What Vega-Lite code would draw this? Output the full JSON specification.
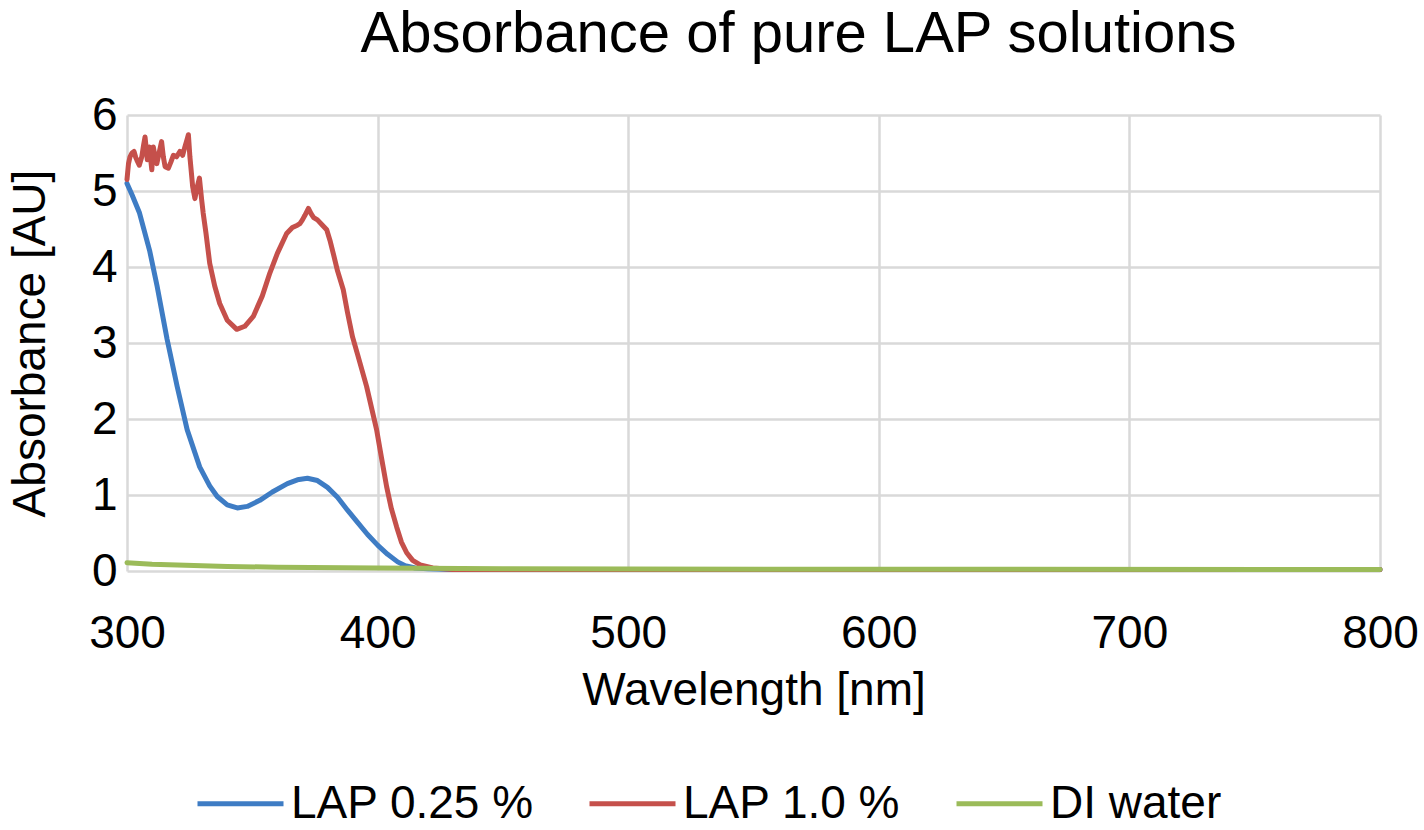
{
  "$schema": "https://vega.github.io/schema/vega-lite/v6.json",
  "width": 1253,
  "height": 456,
  "autosize": {"type": "none"},
  "padding": {"left": 127, "top": 115, "right": 44, "bottom": 259},
  "background": "white",
  "config": {
    "view": {"stroke": null},
    "font": "Liberation Sans",
    "axis": {
      "grid": true,
      "gridColor": "#d9d9d9",
      "gridWidth": 2.5,
      "domain": false,
      "ticks": false,
      "labelFont": "Liberation Sans",
      "labelFontSize": 46,
      "labelColor": "#000000",
      "labelFlush": false,
      "titleFont": "Liberation Sans",
      "titleFontSize": 46,
      "titleFontWeight": "normal",
      "titleColor": "#000000"
    }
  },
  "title": {
    "text": "Absorbance of pure LAP solutions",
    "fontSize": 58,
    "fontWeight": "normal",
    "font": "Liberation Sans",
    "color": "#000000",
    "anchor": "middle",
    "frame": "group",
    "offset": 28,
    "dx": 45
  },
  "data": {
    "values": [
      {"w": 300, "a": 5.10, "s": "LAP 0.25 %"},
      {"w": 302, "a": 4.95, "s": "LAP 0.25 %"},
      {"w": 305, "a": 4.71, "s": "LAP 0.25 %"},
      {"w": 309, "a": 4.22, "s": "LAP 0.25 %"},
      {"w": 312, "a": 3.75, "s": "LAP 0.25 %"},
      {"w": 316, "a": 3.05, "s": "LAP 0.25 %"},
      {"w": 320, "a": 2.43, "s": "LAP 0.25 %"},
      {"w": 324, "a": 1.86, "s": "LAP 0.25 %"},
      {"w": 329, "a": 1.37, "s": "LAP 0.25 %"},
      {"w": 333, "a": 1.12, "s": "LAP 0.25 %"},
      {"w": 336, "a": 0.98, "s": "LAP 0.25 %"},
      {"w": 340, "a": 0.87, "s": "LAP 0.25 %"},
      {"w": 344, "a": 0.83, "s": "LAP 0.25 %"},
      {"w": 348, "a": 0.85, "s": "LAP 0.25 %"},
      {"w": 353, "a": 0.93, "s": "LAP 0.25 %"},
      {"w": 358, "a": 1.04, "s": "LAP 0.25 %"},
      {"w": 364, "a": 1.15, "s": "LAP 0.25 %"},
      {"w": 368, "a": 1.20, "s": "LAP 0.25 %"},
      {"w": 372, "a": 1.22, "s": "LAP 0.25 %"},
      {"w": 376, "a": 1.19, "s": "LAP 0.25 %"},
      {"w": 380, "a": 1.10, "s": "LAP 0.25 %"},
      {"w": 384, "a": 0.97, "s": "LAP 0.25 %"},
      {"w": 388, "a": 0.80, "s": "LAP 0.25 %"},
      {"w": 392, "a": 0.64, "s": "LAP 0.25 %"},
      {"w": 396, "a": 0.48, "s": "LAP 0.25 %"},
      {"w": 400, "a": 0.34, "s": "LAP 0.25 %"},
      {"w": 404, "a": 0.22, "s": "LAP 0.25 %"},
      {"w": 408, "a": 0.12, "s": "LAP 0.25 %"},
      {"w": 411, "a": 0.07, "s": "LAP 0.25 %"},
      {"w": 415, "a": 0.04, "s": "LAP 0.25 %"},
      {"w": 420, "a": 0.03, "s": "LAP 0.25 %"},
      {"w": 430, "a": 0.02, "s": "LAP 0.25 %"},
      {"w": 500, "a": 0.02, "s": "LAP 0.25 %"},
      {"w": 600, "a": 0.02, "s": "LAP 0.25 %"},
      {"w": 700, "a": 0.02, "s": "LAP 0.25 %"},
      {"w": 800, "a": 0.02, "s": "LAP 0.25 %"},
      {"w": 300, "a": 5.15, "s": "LAP 1.0 %"},
      {"w": 300.6, "a": 5.36, "s": "LAP 1.0 %"},
      {"w": 301.2, "a": 5.45, "s": "LAP 1.0 %"},
      {"w": 302.0, "a": 5.50, "s": "LAP 1.0 %"},
      {"w": 302.8, "a": 5.52, "s": "LAP 1.0 %"},
      {"w": 303.5, "a": 5.44, "s": "LAP 1.0 %"},
      {"w": 303.9, "a": 5.41, "s": "LAP 1.0 %"},
      {"w": 304.9, "a": 5.34, "s": "LAP 1.0 %"},
      {"w": 305.9, "a": 5.45, "s": "LAP 1.0 %"},
      {"w": 306.6, "a": 5.60, "s": "LAP 1.0 %"},
      {"w": 307.2, "a": 5.71, "s": "LAP 1.0 %"},
      {"w": 307.7, "a": 5.55, "s": "LAP 1.0 %"},
      {"w": 308.1, "a": 5.41, "s": "LAP 1.0 %"},
      {"w": 308.9, "a": 5.58, "s": "LAP 1.0 %"},
      {"w": 309.9, "a": 5.28, "s": "LAP 1.0 %"},
      {"w": 310.5, "a": 5.58, "s": "LAP 1.0 %"},
      {"w": 311.2, "a": 5.45, "s": "LAP 1.0 %"},
      {"w": 311.9, "a": 5.36, "s": "LAP 1.0 %"},
      {"w": 312.8, "a": 5.50, "s": "LAP 1.0 %"},
      {"w": 313.8, "a": 5.65, "s": "LAP 1.0 %"},
      {"w": 314.5, "a": 5.45, "s": "LAP 1.0 %"},
      {"w": 315.2, "a": 5.32, "s": "LAP 1.0 %"},
      {"w": 316.5, "a": 5.30, "s": "LAP 1.0 %"},
      {"w": 317.5, "a": 5.38, "s": "LAP 1.0 %"},
      {"w": 318.5, "a": 5.47, "s": "LAP 1.0 %"},
      {"w": 319.8, "a": 5.45, "s": "LAP 1.0 %"},
      {"w": 321.1, "a": 5.52, "s": "LAP 1.0 %"},
      {"w": 322.2, "a": 5.47, "s": "LAP 1.0 %"},
      {"w": 323.1, "a": 5.58, "s": "LAP 1.0 %"},
      {"w": 324.0, "a": 5.68, "s": "LAP 1.0 %"},
      {"w": 324.5, "a": 5.74, "s": "LAP 1.0 %"},
      {"w": 325.1, "a": 5.45, "s": "LAP 1.0 %"},
      {"w": 326.2, "a": 5.06, "s": "LAP 1.0 %"},
      {"w": 327.1, "a": 4.90, "s": "LAP 1.0 %"},
      {"w": 328.0, "a": 5.05, "s": "LAP 1.0 %"},
      {"w": 328.9, "a": 5.17, "s": "LAP 1.0 %"},
      {"w": 329.8, "a": 4.88, "s": "LAP 1.0 %"},
      {"w": 330.4, "a": 4.71, "s": "LAP 1.0 %"},
      {"w": 331.5, "a": 4.45, "s": "LAP 1.0 %"},
      {"w": 333, "a": 4.05, "s": "LAP 1.0 %"},
      {"w": 335, "a": 3.75, "s": "LAP 1.0 %"},
      {"w": 337, "a": 3.52, "s": "LAP 1.0 %"},
      {"w": 340, "a": 3.30, "s": "LAP 1.0 %"},
      {"w": 343.8, "a": 3.18, "s": "LAP 1.0 %"},
      {"w": 347, "a": 3.22, "s": "LAP 1.0 %"},
      {"w": 350.4, "a": 3.35, "s": "LAP 1.0 %"},
      {"w": 354, "a": 3.62, "s": "LAP 1.0 %"},
      {"w": 357, "a": 3.92, "s": "LAP 1.0 %"},
      {"w": 360, "a": 4.18, "s": "LAP 1.0 %"},
      {"w": 363.7, "a": 4.44, "s": "LAP 1.0 %"},
      {"w": 366, "a": 4.52, "s": "LAP 1.0 %"},
      {"w": 368, "a": 4.55, "s": "LAP 1.0 %"},
      {"w": 369, "a": 4.57, "s": "LAP 1.0 %"},
      {"w": 370, "a": 4.62, "s": "LAP 1.0 %"},
      {"w": 371, "a": 4.68, "s": "LAP 1.0 %"},
      {"w": 372.4, "a": 4.77, "s": "LAP 1.0 %"},
      {"w": 373.5, "a": 4.70, "s": "LAP 1.0 %"},
      {"w": 374.5, "a": 4.65, "s": "LAP 1.0 %"},
      {"w": 376, "a": 4.62, "s": "LAP 1.0 %"},
      {"w": 378, "a": 4.55, "s": "LAP 1.0 %"},
      {"w": 379.7, "a": 4.49, "s": "LAP 1.0 %"},
      {"w": 381, "a": 4.35, "s": "LAP 1.0 %"},
      {"w": 382.3, "a": 4.18, "s": "LAP 1.0 %"},
      {"w": 384, "a": 3.95, "s": "LAP 1.0 %"},
      {"w": 386.3, "a": 3.70, "s": "LAP 1.0 %"},
      {"w": 388, "a": 3.40, "s": "LAP 1.0 %"},
      {"w": 390, "a": 3.08, "s": "LAP 1.0 %"},
      {"w": 392, "a": 2.85, "s": "LAP 1.0 %"},
      {"w": 395.6, "a": 2.43, "s": "LAP 1.0 %"},
      {"w": 399.6, "a": 1.86, "s": "LAP 1.0 %"},
      {"w": 401.5, "a": 1.50, "s": "LAP 1.0 %"},
      {"w": 403.6, "a": 1.11, "s": "LAP 1.0 %"},
      {"w": 405.5, "a": 0.82, "s": "LAP 1.0 %"},
      {"w": 407.6, "a": 0.58, "s": "LAP 1.0 %"},
      {"w": 409.5, "a": 0.38, "s": "LAP 1.0 %"},
      {"w": 411.6, "a": 0.24, "s": "LAP 1.0 %"},
      {"w": 414, "a": 0.14, "s": "LAP 1.0 %"},
      {"w": 417, "a": 0.08, "s": "LAP 1.0 %"},
      {"w": 422, "a": 0.04, "s": "LAP 1.0 %"},
      {"w": 430, "a": 0.02, "s": "LAP 1.0 %"},
      {"w": 500, "a": 0.02, "s": "LAP 1.0 %"},
      {"w": 800, "a": 0.02, "s": "LAP 1.0 %"},
      {"w": 300, "a": 0.11, "s": "DI water"},
      {"w": 310, "a": 0.09, "s": "DI water"},
      {"w": 320, "a": 0.08, "s": "DI water"},
      {"w": 340, "a": 0.06, "s": "DI water"},
      {"w": 360, "a": 0.05, "s": "DI water"},
      {"w": 400, "a": 0.04, "s": "DI water"},
      {"w": 450, "a": 0.03, "s": "DI water"},
      {"w": 500, "a": 0.025, "s": "DI water"},
      {"w": 800, "a": 0.02, "s": "DI water"}
    ]
  },
  "mark": {"type": "line", "strokeWidth": 5, "strokeCap": "round", "strokeJoin": "round"},
  "encoding": {
    "x": {
      "field": "w",
      "type": "quantitative",
      "title": "Wavelength [nm]",
      "scale": {"domain": [300, 800], "nice": false, "zero": false},
      "axis": {"values": [300, 400, 500, 600, 700, 800], "labelPadding": 40, "titlePadding": 12}
    },
    "y": {
      "field": "a",
      "type": "quantitative",
      "title": "Absorbance [AU]",
      "scale": {"domain": [0, 6], "nice": false},
      "axis": {"values": [0, 1, 2, 3, 4, 5, 6], "labelPadding": 10, "titlePadding": 37}
    },
    "color": {
      "field": "s",
      "type": "nominal",
      "scale": {
        "domain": ["LAP 0.25 %", "LAP 1.0 %", "DI water"],
        "range": ["#3e7cc4", "#c5504b", "#9bbb59"]
      },
      "legend": {
        "title": null,
        "orient": "none",
        "direction": "horizontal",
        "legendX": 68,
        "legendY": 643,
        "symbolType": "stroke",
        "symbolSize": 7396,
        "symbolStrokeWidth": 5,
        "labelFont": "Liberation Sans",
        "labelFontSize": 46,
        "labelColor": "#000000",
        "labelOffset": 5,
        "columnPadding": 45,
        "labelLimit": 400
      }
    },
    "order": {"field": "w", "type": "quantitative"}
  }
}
